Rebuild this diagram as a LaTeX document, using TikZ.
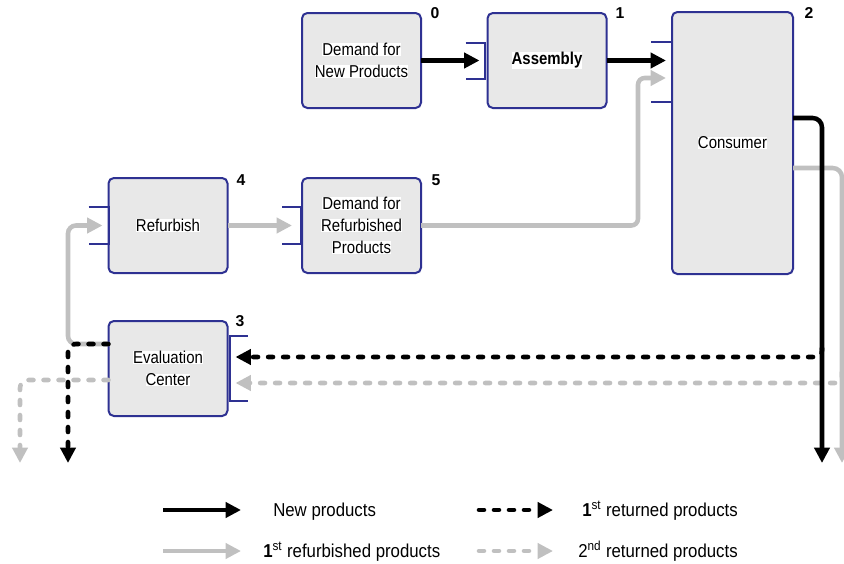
\documentclass[tikz,border=0pt]{standalone}
\usepackage{fontspec}
\setmainfont{Liberation Sans}
\newfontfamily\nfont{Liberation Sans}[FakeStretch=0.87]
\newfontfamily\lfont{Liberation Sans}[FakeStretch=0.9]
\usetikzlibrary{arrows.meta,calc}
\definecolor{boxfill}{HTML}{E8E8E8}
\definecolor{boxdraw}{HTML}{2E3192}
\definecolor{lgray}{HTML}{C0C0C0}
\newcommand\wl[1]{{\setlength\fboxsep{0pt}\colorbox{white}{#1}}}
\begin{document}
\begin{tikzpicture}[x=0.75pt,y=-0.75pt,
  box/.style={draw=boxdraw, line width=1.5pt, fill=boxfill, rounded corners=4pt,
    minimum width=89.25pt, minimum height=71.25pt, align=center, inner sep=0pt, outer sep=0pt,
    font=\nfont\fontsize{12.9}{16.5}\selectfont},
  brk/.style={draw=boxdraw, line width=1.5pt},
  num/.style={font=\bfseries\fontsize{11.8}{13}\selectfont, inner sep=0pt},
  tip/.style={-{Triangle[length=11.5pt,width=11.25pt]}},
  newp/.style={tip, line width=3.4pt, black},
  refp/.style={tip, line width=3.4pt, lgray},
  ret1/.style={tip, line width=3.4pt, black, dash pattern=on 3.75pt off 7.5pt, line cap=round},
  ret2/.style={tip, line width=3.4pt, lgray, dash pattern=on 3.75pt off 7.5pt, line cap=round},
  lgd/.style={font=\lfont\fontsize{14}{16}\selectfont, anchor=base west, inner sep=0pt}
]
\useasboundingbox (0,0) rectangle (844,564);

% boxes
\node[box] (n0) at (361.5,60.5) {\wl{Demand for}\\\wl{New Products}};
\node[box, font=\nfont\bfseries\fontsize{12.9}{16.5}\selectfont] (n1) at (547,60.5) {\wl{Assembly}};
\node[box, minimum width=90.75pt, minimum height=196.5pt] (n2) at (732.5,143) {\wl{Consumer}};
\node[box] (n4) at (168,225.5) {\wl{Refurbish}};
\node[box] (n5) at (361.5,225.5) {\wl{Demand for}\\\wl{Refurbished}\\\wl{Products}};
\node[box] (n3) at (168,368.5) {\wl{Evaluation}\\\wl{Center}};

% numbers
\node[num] (l0) at (435,13) {0};
\node[num] (l1) at (620,13) {1};
\node[num] (l2) at (809,13) {2};
\node[num] (l4) at (241,180) {4};
\node[num] (l5) at (436,180) {5};
\node[num] (l3) at (240,321) {3};

% brackets
\draw[brk] ($(n1.west)+(-22,-18)$) -- ($(n1.west)+(-3,-18)$) -- ($(n1.west)+(-3,18)$) -- ($(n1.west)+(-22,18)$);
\draw[brk] ($(n2.north west)+(-21,30)$) -- ($(n2.north west)+(0,30)$) -- ($(n2.north west)+(0,90)$) -- ($(n2.north west)+(-21,90)$);
\draw[brk] ($(n4.west)+(-20,-18.5)$) -- ($(n4.west)+(0,-18.5)$) -- ($(n4.west)+(0,18.5)$) -- ($(n4.west)+(-20,18.5)$);
\draw[brk] ($(n5.west)+(-20,-18.5)$) -- ($(n5.west)+(-1,-18.5)$) -- ($(n5.west)+(-1,18.5)$) -- ($(n5.west)+(-20,18.5)$);
\draw[brk] ($(n3.east)+(20,-32.5)$) -- ($(n3.east)+(2,-32.5)$) -- ($(n3.east)+(2,32.5)$) -- ($(n3.east)+(20,32.5)$);

% free ends
\coordinate (blkend) at (822,463);
\coordinate (gryend) at (842,463);
\coordinate (evblk) at (68,463);
\coordinate (evgry) at (20,463);

% gray solid flows
\draw[refp] (n4.east) -- ($(n5.west)+(-10,0)$);
\draw[refp, rounded corners=5pt] (n5.east) -- ($(n5.east)+(217,0)$) |- ($(n2.north west)+(-6,66)$);
\draw[refp, rounded corners=6pt] ($(n3.west)+(0,-24.5)$) -- (68,344) -- (68,225.5) -- ($(n4.west)+(-6,0)$);
\draw[refp, rounded corners=7pt] ($(n2.north east)+(0,156)$) -| (gryend);

% dashed returns
\draw[ret2, rounded corners=5pt] (842,372) |- ($(n3.east)+(8,14.5)$);
\draw[ret2, rounded corners=6pt] ($(n3.west)+(0,11.5)$) -| (evgry);
\draw[ret1, rounded corners=5pt] (822,348) |- ($(n3.east)+(8,-11.5)$);
\draw[ret1, rounded corners=6pt] ($(n3.west)+(0,-24.5)$) -| (evblk);

% black solid flows
\draw[newp] (n0.east) -- ($(n1.west)+(-8,0)$);
\draw[newp] (n1.east) -- ($(n2.north west)+(-6,48.5)$);
\draw[newp, rounded corners=7pt] ($(n2.north east)+(0,106)$) -| (blkend);

% legend
\draw[newp] (163,510) -- (241,510);
\node[lgd] (t1) at (273,516.5) {New products};
\draw[ret1] (479,510) -- (553,510);
\node[lgd] (t2) at (582,516.5) {{\bfseries 1}\textsuperscript{st} returned products};
\draw[refp] (163,551) -- (241,551);
\node[lgd] (t3) at (263,557.5) {{\bfseries 1}\textsuperscript{st} refurbished products};
\draw[ret2] (479,551) -- (553,551);
\node[lgd] (t4) at (578,557.5) {2\textsuperscript{nd} returned products};
\end{tikzpicture}
\end{document}
